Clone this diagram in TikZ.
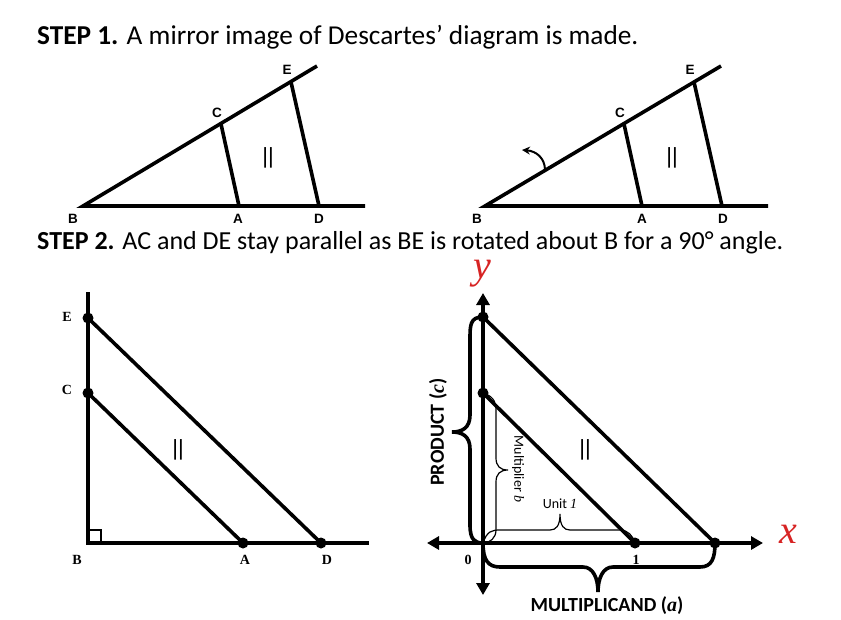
\documentclass[tikz,border=0pt]{standalone}
\usepackage{fontspec}
\setmainfont{Carlito}
\newfontfamily\lblsans{Liberation Sans}
\newfontfamily\lblserif{Liberation Serif}
\usetikzlibrary{arrows.meta}
\definecolor{axred}{RGB}{215,35,35}
\begin{document}
\begin{tikzpicture}[x=1pt,y=-1pt,
  thickline/.style={line width=3.6pt, line join=miter},
  thinline/.style={line width=1.2pt},
  toplbl/.style={font=\lblsans\bfseries\fontsize{13.5}{13.5}\selectfont, inner sep=0pt},
  serlbl/.style={font=\lblserif\bfseries\fontsize{14}{14}\selectfont, inner sep=0pt},
  dot/.style={circle, fill=black, inner sep=0pt, minimum size=11pt},
  parmark/.style={font=\lblsans\fontsize{22}{22}\selectfont, inner sep=0pt},
  steptext/.style={anchor=base west, inner sep=0pt},
  bigtext/.style={font=\bfseries\fontsize{20}{20}\selectfont, inner sep=0pt},
  smalltext/.style={font=\fontsize{14}{14}\selectfont, inner sep=0pt},
  axlbl/.style={font=\lblserif\itshape\fontsize{40}{40}\selectfont, text=axred, inner sep=0pt, text height=0.46em, text depth=0.22em},
  bothtips/.style={{Triangle[length=12pt,width=13pt]}-{Triangle[length=12pt,width=13pt]}}
]
\useasboundingbox (0,0) rectangle (841,619);

% ---------- titles ----------
\node[steptext, font=\fontsize{27.3}{27.3}\selectfont] (s1) at (37,44) {\textbf{STEP 1.} A mirror image of Descartes’ diagram is made.};
\node[steptext, font=\fontsize{26}{26}\selectfont] (s2) at (37,249) {\textbf{STEP 2.} AC and DE stay parallel as BE is rotated about B for a 90° angle.};

% ---------- step 1, left ----------
\coordinate (B1) at (83,206);
\coordinate (X1) at (365,206);
\coordinate (T1) at (317,66);
\coordinate (C1) at (221,124);
\coordinate (E1) at (291,82);
\coordinate (A1) at (239,206);
\coordinate (D1) at (319,206);
\draw[thickline] (T1) -- (B1) -- (X1);
\draw[thickline] (C1) -- (A1);
\draw[thickline] (E1) -- (D1);
\node[toplbl] (lB1) at (73,219) {B};
\node[toplbl] (lA1) at (238,219) {A};
\node[toplbl] (lD1) at (319,219) {D};
\node[toplbl] (lC1) at (217,113) {C};
\node[toplbl] (lE1) at (287,70) {E};
\node[parmark] (p1) at (268,158) {||};

% ---------- step 1, right ----------
\coordinate (B2) at (485,206);
\coordinate (X2) at (768,206);
\coordinate (T2) at (721,66);
\coordinate (C2) at (624,124);
\coordinate (E2) at (694,82);
\coordinate (A2) at (642,206);
\coordinate (D2) at (722,206);
\draw[thickline] (T2) -- (B2) -- (X2);
\draw[thickline] (C2) -- (A2);
\draw[thickline] (E2) -- (D2);
\node[toplbl] (lB2) at (477,219) {B};
\node[toplbl] (lA2) at (642,219) {A};
\node[toplbl] (lD2) at (723,219) {D};
\node[toplbl] (lC2) at (620,113) {C};
\node[toplbl] (lE2) at (690,70) {E};
\node[parmark] (p2) at (672,158) {||};
\coordinate (R0) at (545,170);
\coordinate (R1) at (522,150);
\draw[line width=2pt, -{Stealth[length=8pt,width=8pt]}] (R0) .. controls (545,158) and (536,151) .. (R1);

% ---------- step 2, left ----------
\coordinate (V3) at (88,292);
\coordinate (B3) at (88,543);
\coordinate (H3) at (369,543);
\node[dot] (E3) at (88,318) {};
\node[dot] (C3) at (88,393) {};
\node[dot] (A3) at (243,543) {};
\node[dot] (D3) at (321,543) {};
\draw[thickline] (V3) -- (B3) -- (H3);
\draw[thickline] (C3.center) -- (A3.center);
\draw[thickline] (E3.center) -- (D3.center);
\draw[line width=1.5pt] (B3) rectangle (101,530);
\node[serlbl] (lE3) at (67,317) {E};
\node[serlbl] (lC3) at (67,390) {C};
\node[serlbl] (lB3) at (77,560) {B};
\node[serlbl] (lA3) at (245,560) {A};
\node[serlbl] (lD3) at (327,560) {D};
\node[parmark] (p3) at (178,450) {||};

% ---------- step 2, right ----------
\coordinate (O) at (483,543);
\coordinate (Ytop) at (483,293);
\coordinate (Ybot) at (483,595);
\coordinate (Xl) at (427,543);
\coordinate (Xr) at (763,543);
\draw[thickline, bothtips] (Ybot) -- (Ytop);
\draw[thickline, bothtips] (Xl) -- (Xr);
\node[dot] (E4) at (483,317) {};
\node[dot] (C4) at (483,393) {};
\node[dot] (U4) at (635,543) {};
\node[dot] (D4) at (715,543) {};
\draw[thickline] (C4.center) -- (U4.center);
\draw[thickline] (E4.center) -- (D4.center);
\node[parmark] (p4) at (585,450) {||};

% braces
\draw[line width=3.6pt, line cap=round] (E4.center) .. controls (470,317) and (470,325) .. (470,340) -- (470,415)
  .. controls (470,428) and (462,432) .. (452,432)
  .. controls (462,432) and (470,436) .. (470,449) -- (470,525)
  .. controls (470,540) and (475,543) .. (O);
\draw[line width=3.6pt, line cap=round] (O) .. controls (483,560) and (488,567) .. (500,567) -- (583,567)
  .. controls (593,567) and (598,578) .. (598,592)
  .. controls (598,578) and (603,567) .. (613,567) -- (700,567)
  .. controls (712,567) and (715,558) .. (D4.center);
\draw[thinline] (C4.center) .. controls (496,397) and (496,405) .. (496,412) -- (496,458)
  .. controls (496,466) and (500,470) .. (508,470)
  .. controls (500,470) and (496,474) .. (496,482) -- (496,530)
  .. controls (496,538) and (490,543) .. (O);
\draw[thinline] (O) .. controls (487,531) and (492,530) .. (500,530) -- (550,530)
  .. controls (556,530) and (560,526) .. (560,514)
  .. controls (560,526) and (564,530) .. (570,530) -- (620,530)
  .. controls (628,530) and (633,536) .. (U4.center);

\node[axlbl] (ly) at (482,277) {y};
\node[axlbl] (lx) at (788,542) {x};
\node[serlbl] (l0) at (468,560) {0};
\node[serlbl] (l1) at (636,560) {1};
\node[bigtext, rotate=90] (prod) at (438,432) {PRODUCT ({\lblserif\itshape c})};
\node[bigtext] (mult) at (607,606) {MULTIPLICAND ({\lblserif\itshape a})};
\node[smalltext, rotate=-90] (mulb) at (518,469) {Multiplier {\lblserif\itshape b}};
\node[smalltext] (unit) at (560,504) {Unit {\lblserif\itshape 1}};
\end{tikzpicture}
\end{document}
